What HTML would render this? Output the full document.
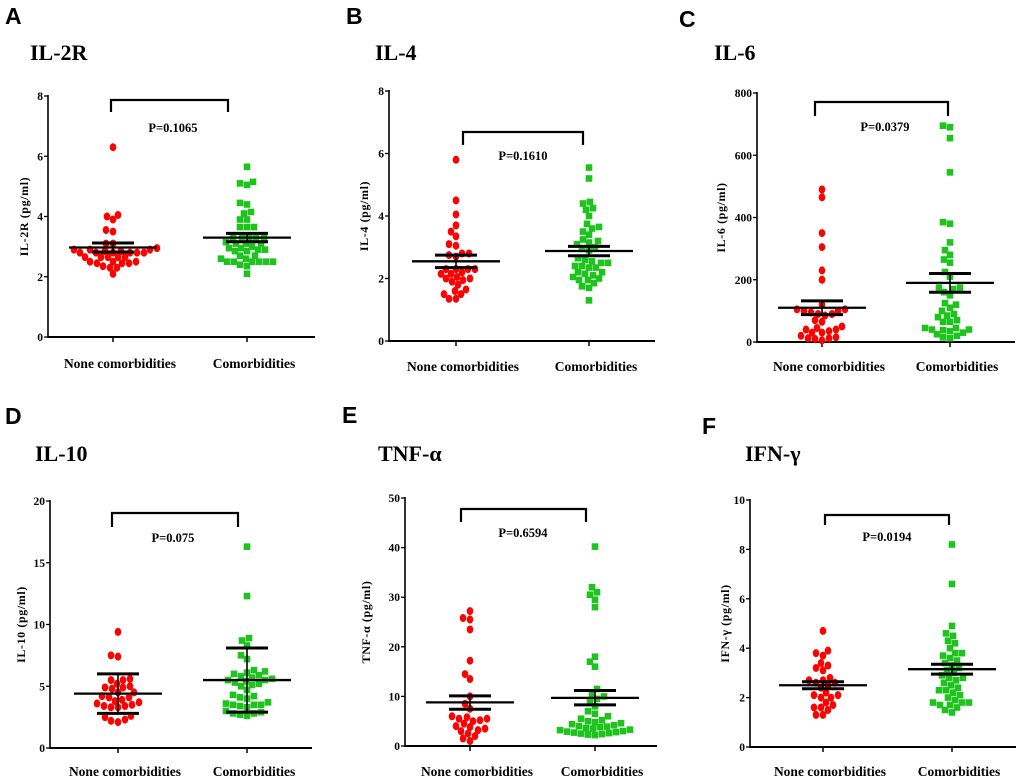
<!DOCTYPE html>
<html><head><meta charset="utf-8">
<style>
html,body{margin:0;padding:0;background:#fff;}
svg{display:block;}
text{font-family:"Liberation Serif",serif;font-weight:bold;fill:#000;}
.lt{font-family:"Liberation Sans",sans-serif;font-weight:bold;font-size:23px;}
</style></head>
<body>
<svg id="chart" width="1020" height="784" viewBox="0 0 1020 784"></svg>
<script>
// ---- data ----
const categories = ["None comorbidities", "Comorbidities"];
const panelNames = ["IL-2R", "IL-4", "IL-6", "IL-10", "TNF-α", "IFN-γ"];
const pValues = ["P=0.1065", "P=0.1610", "P=0.0379", "P=0.075", "P=0.6594", "P=0.0194"];
const yMaxes = [8, 8, 800, 20, 50, 10];
const yTickSteps = [2, 2, 200, 5, 10, 2];

const il2rNone = [6.3,4.05,4.0,3.9,3.55,3.5,3.1,3.1,2.95,2.9,2.9,2.9,2.8,2.8,2.8,2.8,2.8,2.8,2.85,2.85,2.65,2.65,2.65,2.65,2.65,2.45,2.45,2.5,2.5,2.45,2.5,2.3,2.3,2.35,2.1];
const il2rCom = [5.65,5.15,5.1,5.05,4.45,4.4,4.15,4.1,3.9,3.9,3.65,3.65,3.65,3.3,3.3,3.3,3.3,3.3,3.1,3.1,3.1,3.15,3.0,2.95,2.95,2.9,2.9,2.85,2.85,2.7,2.7,2.6,2.6,2.5,2.5,2.5,2.5,2.5,2.5,2.4,2.35,2.1];
const il4None = [5.8,4.5,4.05,3.7,3.5,3.35,3.1,3.05,2.8,2.8,2.75,2.7,2.3,2.3,2.3,2.3,2.2,2.15,2.15,2.05,2.0,2.0,1.95,1.9,1.8,1.65,1.6,1.5,1.5,1.35,1.35];
const il4Com = [5.55,5.2,4.45,4.4,4.25,4.2,4.0,3.75,3.65,3.6,3.5,3.4,3.25,3.2,3.15,3.1,3.0,2.95,2.9,2.65,2.6,2.55,2.5,2.5,2.4,2.4,2.35,2.35,2.2,2.2,2.15,2.1,2.05,2.0,1.95,1.95,1.85,1.75,1.7,1.3];
const il6None = [490,465,350,305,230,200,120,105,105,100,100,95,90,90,85,70,65,50,45,40,40,35,30,30,20,15,12,12,10,5];
const il6Com = [695,690,655,545,385,380,320,295,280,265,255,225,210,175,175,170,160,150,125,120,110,100,90,85,80,70,65,65,45,45,40,40,38,35,30,25,20,15,12];
const il10None = [9.4,7.5,7.4,5.6,5.5,5.5,5.2,5.0,4.9,4.9,4.8,4.5,4.5,4.2,4.1,4.1,3.9,3.8,3.7,3.6,3.5,3.4,3.4,3.3,3.3,2.6,2.5,2.3,2.2,2.1];
const il10Com = [16.3,12.3,8.9,8.7,8.3,7.5,7.2,6.3,6.2,6.1,6.0,5.9,5.8,5.7,5.6,5.5,5.5,5.4,5.3,5.2,5.1,5.0,4.7,4.3,4.2,4.1,4.0,3.7,3.6,3.5,3.5,3.5,3.4,3.3,3.0,2.9,2.8,2.8,2.7,2.6];
const tnfNone = [27.2,25.8,25.5,23.5,17.2,14.5,13.5,10.0,8.5,7.5,6.0,5.8,5.5,5.5,5.2,5.0,4.5,4.0,3.8,3.5,3.2,3.0,2.5,2.0,1.5,1.0];
const tnfCom = [40.2,32,31,30.5,29.5,28,18,17,16,11.5,10.5,10,9.5,9,8,7,6.5,6,5.5,5.2,5,4.8,4.6,4.4,4.2,4,3.9,3.8,3.6,3.5,3.3,3.2,3,2.9,2.8,2.7,2.6,2.5,2.4,2.3,2.2];
const ifnNone = [4.7,3.9,3.8,3.7,3.4,3.3,3.2,3.1,2.8,2.7,2.7,2.6,2.6,2.5,2.4,2.2,2.1,2.1,2.0,2.0,1.8,1.7,1.6,1.6,1.5,1.3,1.3];
const ifnCom = [8.2,6.6,4.9,4.6,4.5,4.3,4.2,4.0,3.8,3.8,3.7,3.6,3.5,3.4,3.3,3.2,3.1,3.0,2.9,2.8,2.8,2.7,2.6,2.5,2.4,2.3,2.3,2.2,2.1,2.0,1.9,1.8,1.8,1.8,1.7,1.7,1.6,1.5,1.4];

const noneSeries = [il2rNone, il4None, il6None, il10None, tnfNone, ifnNone];
const comSeries = [il2rCom, il4Com, il6Com, il10Com, tnfCom, ifnCom];
const noneMeans = [2.97, 2.55, 110, 4.4, 8.8, 2.5];
const noneLow = [2.82, 2.35, 88, 2.8, 7.4, 2.36];
const noneHigh = [3.12, 2.75, 132, 6.0, 10.1, 2.64];
const comMeans = [3.3, 2.88, 190, 5.5, 9.7, 3.15];
const comLow = [3.16, 2.73, 160, 2.9, 8.3, 2.95];
const comHigh = [3.44, 3.03, 220, 8.1, 11.2, 3.35];

// ---- layout (geometry only) ----
const layouts = [
  {letter:"A", lx:5, ly:24, tx:30, ty:60, ax:48, yo:20, top:96, bot:337, g:[113,247], end:315, bt:100, be:112, bx:[111,228], px:173, py:132, cy:368},
  {letter:"B", lx:346, ly:24, tx:375, ty:60, ax:389, yo:21, top:91, bot:341, g:[456,589], end:655, bt:132, be:145, bx:[463,583], px:523, py:160, cy:371},
  {letter:"C", lx:679, ly:27, tx:714, ty:60, ax:757, yo:32, top:93, bot:342, g:[822,950], end:1015, bt:102, be:116, bx:[815,948], px:885, py:131, cy:371},
  {letter:"D", lx:5, ly:424, tx:35, ty:461, ax:50, yo:25, top:501, bot:748, g:[118,247], end:312, bt:513, be:527, bx:[112,238], px:173, py:542, cy:776},
  {letter:"E", lx:342, ly:423, tx:378, ty:461, ax:405, yo:35, top:498, bot:746, g:[470,595], end:657, bt:509, be:522, bx:[461,586], px:523, py:537, cy:776},
  {letter:"F", lx:702, ly:434, tx:745, ty:461, ax:750, yo:21, top:500, bot:747, g:[823,952], end:1016, bt:515, be:525, bx:[825,949], px:887, py:541, cy:776}
];

const NS = "http://www.w3.org/2000/svg";
const svg = document.getElementById('chart');
function mk(tag, attrs, parent, txt){
  const e = document.createElementNS(NS, tag);
  for (const k in attrs) e.setAttribute(k, attrs[k]);
  if (txt !== undefined) e.textContent = txt;
  (parent||svg).appendChild(e);
  return e;
}
function swarm(vals, yFn, cx, dia){
  const order = vals.map((v,i)=>i).sort((a,b)=>vals[a]-vals[b]);
  const placed = []; const out = new Array(vals.length);
  for (const i of order){
    const y = yFn(vals[i]);
    let best = 0;
    for (let s=0; s<200; s++){
      const off = (s%2===0?1:-1)*Math.ceil(s/2);
      let ok = true;
      for (const p of placed){
        const dx=p.x-(cx+off), dy=p.y-y;
        if (dx*dx+dy*dy < dia*dia){ok=false;break;}
      }
      if (ok){best=off;break;}
    }
    placed.push({x:cx+best,y:y});
    out[i]={x:cx+best,y:y};
  }
  return out;
}

layouts.forEach((L, pi) => {
  const g = mk('g', {});
  
  
  const yMax = yMaxes[pi];
  const yScale = v => L.bot - (v / yMax) * (L.bot - L.top);

  const letter = mk('text', {x:L.lx, y:L.ly, class:'lt'}, g, L.letter);
  
  
  const title = mk('text', {x:L.tx, y:L.ty, 'font-size':22}, g, panelNames[pi]);
  
  

  const yAxis = mk('line', {x1:L.ax, y1:L.top-1, x2:L.ax, y2:L.bot+1, stroke:'#000','stroke-width':1.6}, g);
  
  
  const xAxis = mk('line', {x1:L.ax, y1:L.bot, x2:L.end, y2:L.bot, stroke:'#000','stroke-width':2}, g);
  
  
  for (let v = 0; v <= yMax + 1e-9; v += yTickSteps[pi]){
    const y = yScale(v);
    mk('line', {x1:L.ax-4, y1:y, x2:L.ax, y2:y, stroke:'#000','stroke-width':1.3}, g);
    const t = mk('text', {x:L.ax-5, y:y+4, 'font-size':11.5, 'text-anchor':'end'}, g, String(v));
    
    
  }
  const yt = mk('text', {x:0, y:0, 'font-size':12, 'letter-spacing':'0.6', 'text-anchor':'middle', transform:`translate(${L.ax-L.yo},${(L.top+L.bot)/2}) rotate(-90)`}, g, panelNames[pi] + ' (pg/ml)');
  
  
  categories.forEach((c, ci) => {
    mk('line', {x1:L.g[ci], y1:L.bot, x2:L.g[ci], y2:L.bot+5, stroke:'#000','stroke-width':1.5}, g);
    const t = mk('text', {x:L.g[ci]+7, y:L.cy, 'font-size':13.5, 'text-anchor':'middle'}, g, c);
    
    
  });

  const br = mk('path', {d:`M${L.bx[0]},${L.be} V${L.bt} H${L.bx[1]} V${L.be}`, fill:'none', stroke:'#000','stroke-width':2.2}, g);
  
  
  const pt = mk('text', {x:L.px, y:L.py, 'font-size':12.5, 'text-anchor':'middle'}, g, pValues[pi]);
  
  

  const noneP = swarm(noneSeries[pi], yScale, L.g[0], 6.6);
  noneP.forEach(p => {
    const e = mk('ellipse', {cx:p.x, cy:p.y, rx:3.3, ry:4, fill:'#ff0000'}, g);
    
    
  });
  const comP = swarm(comSeries[pi], yScale, L.g[1], 6.6);
  comP.forEach(p => {
    const e = mk('rect', {x:p.x-3.3, y:p.y-3.3, width:6.6, height:6.6, fill:'#1ec31e'}, g);
    
    
  });

  const means = [noneMeans[pi], comMeans[pi]], lows=[noneLow[pi], comLow[pi]], highs=[noneHigh[pi], comHigh[pi]];
  [0,1].forEach(ci => {
    const cx = L.g[ci];
    const eg = mk('g', {stroke:'#000','stroke-width':2.3}, g);
    
    
    mk('line', {x1:cx-44, y1:yScale(means[ci]), x2:cx+44, y2:yScale(means[ci])}, eg);
    mk('line', {x1:cx, y1:yScale(lows[ci]), x2:cx, y2:yScale(highs[ci]), 'stroke-width':1.6}, eg);
    mk('line', {x1:cx-21, y1:yScale(lows[ci]), x2:cx+21, y2:yScale(lows[ci]), 'stroke-width':3}, eg);
    mk('line', {x1:cx-21, y1:yScale(highs[ci]), x2:cx+21, y2:yScale(highs[ci]), 'stroke-width':3}, eg);
  });
});
</script>
</body></html>
